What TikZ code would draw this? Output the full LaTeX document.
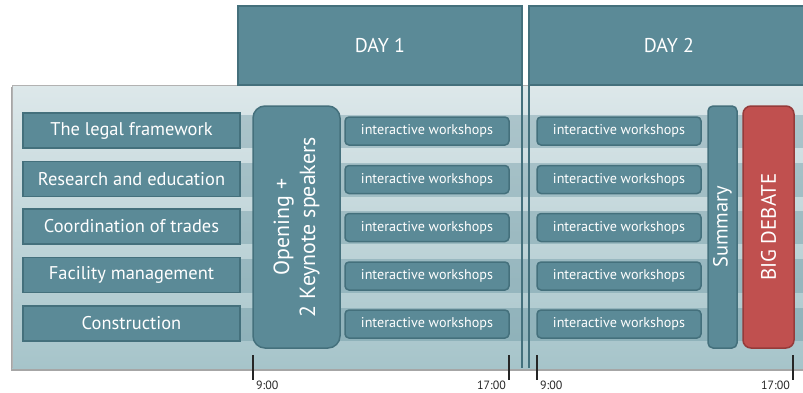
\documentclass[tikz,border=0pt]{standalone}
\usepackage{fontspec}
\setmainfont{PT Sans}
\definecolor{boxteal}{HTML}{5B8A97}
\definecolor{boxedge}{HTML}{44707C}
\definecolor{paneltop}{HTML}{DDE8EA}
\definecolor{panelbot}{HTML}{A6C4CA}
\definecolor{debatered}{HTML}{C0504F}
\definecolor{debateedge}{HTML}{953B3A}
\tikzset{
  header/.style={draw=boxedge, line width=1.5bp, fill=boxteal, text=white, minimum height=79bp, inner sep=0pt, font=\fontsize{20}{20}\selectfont},
  topic/.style={draw=boxedge, line width=1.5bp, fill=boxteal, text=white, minimum width=217bp, minimum height=35bp, inner sep=0pt, font=\fontsize{18.5}{18.5}\selectfont},
  workshop/.style={draw=boxedge, line width=1.5bp, fill=boxteal, text=white, rounded corners=4bp, minimum width=164bp, minimum height=28bp, inner sep=0pt, font=\fontsize{14.2}{14.2}\selectfont},
  tallbox/.style={draw=boxedge, line width=1.5bp, fill=boxteal, text=white, minimum width=242bp, inner sep=0pt, rotate=90, align=center},
  band/.style={fill=boxteal, opacity=0.35},
  tick/.style={line width=2bp, black!85},
  time/.style={font=\fontsize{12}{12}\selectfont, inner sep=0pt, text=black!85}
}
\begin{document}
\begin{tikzpicture}[x=1bp, y=-1bp]
    \useasboundingbox (0,0) rectangle (803,392);
    
    % panel
    \fill[black!35] (11,87) rectangle (806,371);
    \shade[top color=paneltop, bottom color=panelbot] (12,85) rectangle (806,368);
    \draw[black!30] (12,368) -- (12,85) -- (806,85);
    
    % bands
    \fill[band] (240,115) rectangle (806,148);
    \fill[band] (240,163) rectangle (806,197);
    \fill[band] (240,211) rectangle (806,244);
    \fill[band] (240,259) rectangle (806,293);
    \fill[band] (240,308) rectangle (806,341);
    
    % days
    \node[header, minimum width=284bp] (d1) at (380,45.5) {DAY 1};
    \node[header, minimum width=280bp] (d2) at (669,45.5) {DAY 2};
    \draw[boxedge, line width=1.2bp] (522,85) -- (522,368);
    \draw[boxedge, line width=1.2bp] (529,85) -- (529,368);
    
    % topics
    \node[topic] (t1) at (131.5,130.5) {The legal framework};
    \node[topic] (t2) at (131.5,179) {Research and education};
    \node[topic] (t3) at (131.5,226.5) {Coordination of trades};
    \node[topic] (t4) at (131.5,275) {Facility management};
    \node[topic] (t5) at (131.5,323.5) {Construction};
    
    % day 1
    \node[tallbox, rounded corners=12bp, minimum height=87bp, font=\fontsize{22}{26}\selectfont] (open) at (296.5,227) {Opening +\\2 Keynote speakers};
    \node[workshop] (a1) at (427,131) {interactive workshops};
    \node[workshop] (a2) at (427,179.5) {interactive workshops};
    \node[workshop] (a3) at (427,227.5) {interactive workshops};
    \node[workshop] (a4) at (427,276) {interactive workshops};
    \node[workshop] (a5) at (427,324) {interactive workshops};
    
    % day 2
    \node[workshop] (b1) at (619,131) {interactive workshops};
    \node[workshop] (b2) at (619,179.5) {interactive workshops};
    \node[workshop] (b3) at (619,227.5) {interactive workshops};
    \node[workshop] (b4) at (619,276) {interactive workshops};
    \node[workshop] (b5) at (619,324) {interactive workshops};
    \node[tallbox, rounded corners=5bp, minimum height=29bp, font=\fontsize{20.5}{20.5}\selectfont] (sum) at (722.5,227) {Summary};
    \node[tallbox, rounded corners=8bp, minimum height=51bp, draw=debateedge, fill=debatered, font=\fontsize{21}{21}\selectfont] (debate) at (768.5,227) {BIG DEBATE};
    
    % times
    \draw[tick] (253,355) -- (253,380);
    \draw[tick] (509,355) -- (509,380);
    \draw[tick] (537,355) -- (537,380);
    \draw[tick] (793,355) -- (793,380);
    \node[time, anchor=north west] (s1) at (256,381) {9:00};
    \node[time, anchor=north east] (e1) at (506,381) {17:00};
    \node[time, anchor=north west] (s2) at (540,381) {9:00};
    \node[time, anchor=north east] (e2) at (790,381) {17:00};
    
\end{tikzpicture}
\end{document}
